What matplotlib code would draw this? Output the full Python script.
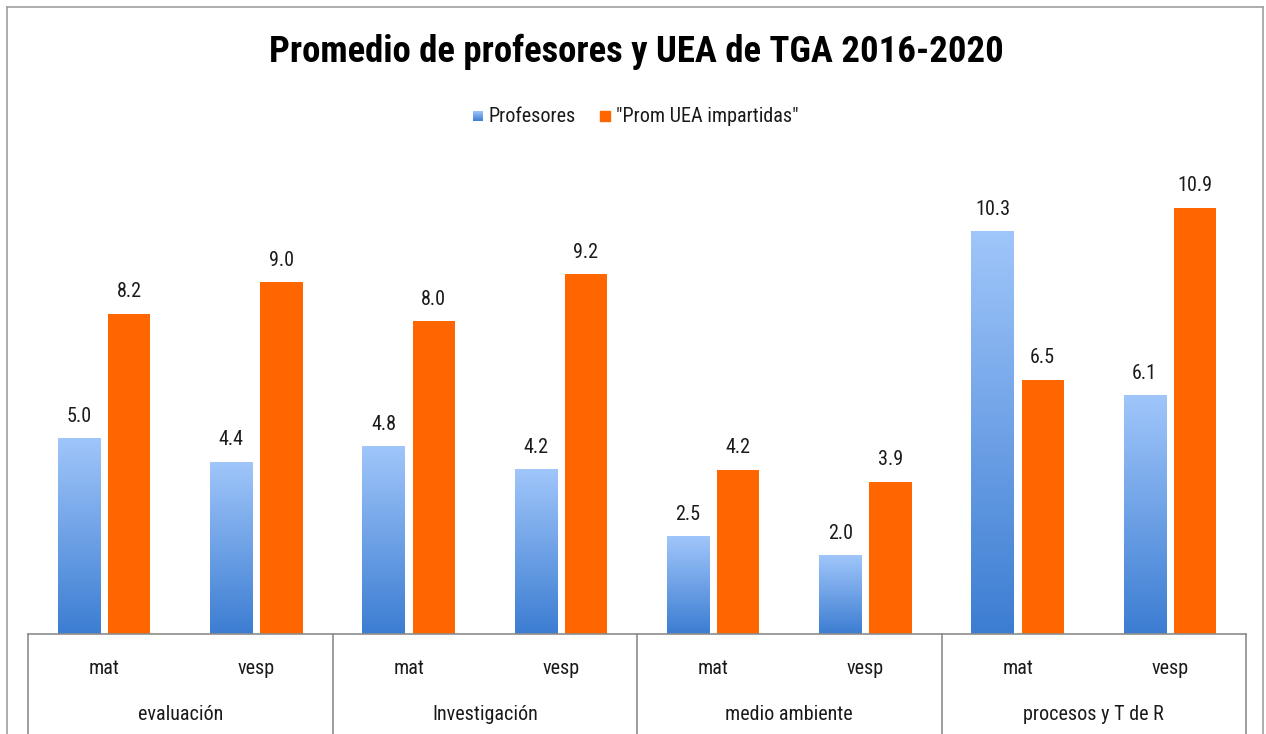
import matplotlib
matplotlib.use("Agg")
import matplotlib.pyplot as plt
from matplotlib import font_manager
import numpy as np
from matplotlib.lines import Line2D
from matplotlib.patches import Rectangle
from matplotlib.colors import LinearSegmentedColormap

groups = ["evaluación", "Investigación", "medio ambiente", "procesos y T de R"]
subcats = ["mat", "vesp"]
profesores = [5.0, 4.4, 4.8, 4.2, 2.5, 2.0, 10.3, 6.1]
prom_uea = [8.2, 9.0, 8.0, 9.2, 4.2, 3.9, 6.5, 10.9]
series_names = ["Profesores", '"Prom UEA impartidas"']
title = "Promedio de profesores y UEA de TGA 2016-2020"

available = {f.name for f in font_manager.fontManager.ttflist}
main_font = "Lato"
for cand in ["Roboto Condensed", "Open Sans Condensed", "Liberation Sans Narrow", "Lato"]:
    if cand in available:
        main_font = cand
        break
FONT = [main_font, "DejaVu Sans"]
plt.rcParams['font.family'] = FONT

W, H = 1266, 734
fig = plt.figure(figsize=(W / 100, H / 100), dpi=100)
left, right, base, top = 28, 1246, 634, 165
ax = fig.add_axes([left / W, 1 - base / H, (right - left) / W, (base - top) / H])
ax.set_xlim(0, len(profesores))
ax.set_ylim(0, 12)
ax.axis("off")

blue_top = "#A0C6FA"
blue_bot = "#3C7DD2"
orange = "#FF6600"
cmap = LinearSegmentedColormap.from_list("bl", [blue_bot, blue_top])
grad = np.linspace(0, 1, 256).reshape(-1, 1)

FS = 14.5
bw = 0.276
off = 0.165
x = np.arange(len(profesores)) + 0.5
for xi, v in zip(x, profesores):
    x0 = xi - off - bw / 2
    ax.imshow(grad, extent=(x0, x0 + bw, 0, v), origin="lower", cmap=cmap,
              aspect="auto", zorder=2, interpolation="bilinear")
    ax.annotate(f"{v:.1f}", (xi - off, v), xytext=(0, 16), textcoords="offset points",
                ha="center", va="center", fontsize=FS, color="#1a1a1a")
ax.bar(x + off, prom_uea, width=bw, color=orange, zorder=2)
for xi, v in zip(x, prom_uea):
    ax.annotate(f"{v:.1f}", (xi + off, v), xytext=(0, 16), textcoords="offset points",
                ha="center", va="center", fontsize=FS, color="#1a1a1a")
ax.set_xlim(0, len(profesores))
ax.set_ylim(0, 12)

# axis lines in figure coordinates
gray = "#8c8c8c"
fig.add_artist(Line2D([left / W, right / W], [1 - base / H] * 2, color=gray, lw=1.2))
for g in range(len(groups) + 1):
    xp = (left + g * (right - left) / len(groups)) / W
    fig.add_artist(Line2D([xp, xp], [1 - base / H, 0], color=gray, lw=1.2))

cw = (right - left) / len(profesores)
for i in range(len(profesores)):
    xc = (left + (i + 0.5) * cw) / W
    fig.text(xc, 1 - 668 / H, subcats[i % 2], ha="center", va="center",
             fontsize=FS, color="#1a1a1a")
gw = (right - left) / len(groups)
for g, name in enumerate(groups):
    xc = (left + (g + 0.5) * gw) / W
    fig.text(xc, 1 - 715 / H, name, ha="center", va="center",
             fontsize=FS, color="#1a1a1a")

# figure border (no bottom)
bc = "#a0a0a0"
fig.add_artist(Line2D([7 / W, 7 / W], [0, 1 - 7 / H], color=bc, lw=1.2))
fig.add_artist(Line2D([7 / W, 1263 / W], [1 - 7 / H] * 2, color=bc, lw=1.2))
fig.add_artist(Line2D([1263 / W, 1263 / W], [0, 1 - 7 / H], color=bc, lw=1.2))

fig.text(636 / W, 1 - 52 / H, title, ha="center", va="center", fontsize=26.5,
         fontweight="bold", color="black")

# legend
ly = 1 - 116 / H
sq = 10
lax = fig.add_axes([473 / W, 1 - 121 / H, sq / W, sq / H])
lax.imshow(grad, extent=(0, 1, 0, 1), origin="lower", cmap=cmap, aspect="auto")
lax.axis("off")
fig.text(489 / W, ly, series_names[0], ha="left", va="center", fontsize=FS, color="#1a1a1a")
fig.add_artist(Rectangle((600 / W, 1 - 121 / H), sq / W, sq / H, color=orange,
                         transform=fig.transFigure))
fig.text(616 / W, ly, series_names[1], ha="left", va="center", fontsize=FS, color="#1a1a1a")

fig.savefig("out.png", dpi=100)
